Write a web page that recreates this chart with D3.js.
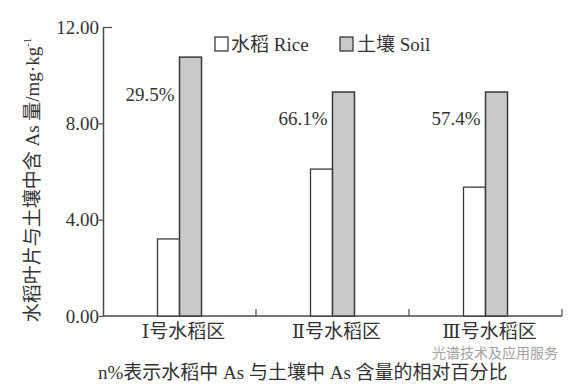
<!DOCTYPE html>
<html>
<head>
<meta charset="utf-8">
<script src="https://cdn.jsdelivr.net/npm/d3@7"></script>
<style>
  body { margin: 0; background: #fff; }
  svg text { fill: #2b2b2b; }
</style>
</head>
<body>
<svg id="chart" width="584" height="387"></svg>
<script>
// data
var categories = ["Ⅰ号水稻区", "Ⅱ号水稻区", "Ⅲ号水稻区"];
var riceValues = [3.20, 6.10, 5.35];
var soilValues = [10.75, 9.30, 9.30];
var pctLabels = ["29.5%", "66.1%", "57.4%"];
var pctLabelAt = [9.2, 8.2, 8.2]; // value level where the percent text sits
var yTicks = [0, 4, 8, 12];

var svg = d3.select("#chart");
var serif = "'Liberation Serif', 'DejaVu Serif', 'Noto Sans CJK SC', serif";
var axisColor = "#4a4a4a";
var fs = 19;

var margin = { left: 103, right: 22, top: 27, bottom: 71 };
var W = 584, H = 387;

var x = d3.scaleBand().domain(categories).range([margin.left, W - margin.right]).padding(0);
var y = d3.scaleLinear().domain([0, 12]).range([H - margin.bottom, margin.top]);
var barW = 22;

// y axis
var yAxis = svg.append("g")
  .attr("transform", "translate(" + margin.left + ",0)")
  .call(d3.axisLeft(y).tickValues(yTicks).tickFormat(d3.format(".2f")).tickSize(4).tickSizeOuter(0));
yAxis.select(".domain").attr("stroke", axisColor).attr("stroke-width", 1.5);
yAxis.selectAll(".tick line").attr("stroke", axisColor).attr("stroke-width", 1.2);
yAxis.selectAll(".tick").filter(function (d) { return d === 12; }).select("line").attr("x2", 9);
yAxis.selectAll(".tick text").attr("font-family", serif).attr("font-size", fs).attr("x", -4).style("fill", "#333");

// x axis: ticks at the band borders, pointing up
var xAxisG = svg.append("g").attr("transform", "translate(0," + y(0) + ")");
xAxisG.append("line").attr("x1", margin.left).attr("x2", W - margin.right)
  .attr("stroke", axisColor).attr("stroke-width", 1.5);
xAxisG.selectAll(".xt").data(categories).enter().append("line")
  .attr("x1", function (d) { return x(d) + x.bandwidth(); })
  .attr("x2", function (d) { return x(d) + x.bandwidth(); })
  .attr("y1", 0).attr("y2", -7)
  .attr("stroke", axisColor).attr("stroke-width", 1.2);
xAxisG.selectAll(".xl").data(categories).enter().append("text")
  .attr("x", function (d) { return x(d) + x.bandwidth() / 2 + 4; })
  .attr("y", 22)
  .attr("text-anchor", "middle")
  .attr("font-family", serif).attr("font-size", fs)
  .style("fill", "#333")
  .text(function (d) { return d; });

// bars
var groups = svg.selectAll(".grp").data(categories).enter().append("g");
groups.append("rect")
  .attr("x", function (d) { return x(d) + x.bandwidth() / 2 - barW; })
  .attr("y", function (d, i) { return y(riceValues[i]); })
  .attr("width", barW)
  .attr("height", function (d, i) { return y(0) - y(riceValues[i]); })
  .attr("fill", "#fff").attr("stroke", "#3a3a3a").attr("stroke-width", 1.3);
groups.append("rect")
  .attr("x", function (d) { return x(d) + x.bandwidth() / 2; })
  .attr("y", function (d, i) { return y(soilValues[i]); })
  .attr("width", barW)
  .attr("height", function (d, i) { return y(0) - y(soilValues[i]); })
  .attr("fill", "#c9c9c9").attr("stroke", "#3a3a3a").attr("stroke-width", 1.5);
groups.append("text")
  .attr("x", function (d) { return x(d) + x.bandwidth() / 2 - 5; })
  .attr("y", function (d, i) { return y(pctLabelAt[i]); })
  .attr("dy", "0.35em")
  .attr("text-anchor", "end")
  .attr("font-family", serif).attr("font-size", fs)
  .style("fill", "#333")
  .text(function (d, i) { return pctLabels[i]; });

// legend
var legend = svg.append("g").attr("transform", "translate(215,37)");
legend.append("rect").attr("x", 0).attr("y", 0).attr("width", 13).attr("height", 14)
  .attr("fill", "#fff").attr("stroke", "#3a3a3a").attr("stroke-width", 1.3);
legend.append("text").attr("x", 16).attr("y", 14).attr("font-family", serif).attr("font-size", fs)
  .style("fill", "#333").text("水稻 Rice");
legend.append("rect").attr("x", 125).attr("y", 0).attr("width", 13).attr("height", 14)
  .attr("fill", "#c9c9c9").attr("stroke", "#3a3a3a").attr("stroke-width", 1.3);
legend.append("text").attr("x", 142).attr("y", 14).attr("font-family", serif).attr("font-size", fs)
  .style("fill", "#333").text("土壤 Soil");

// y axis title
svg.append("text")
  .attr("transform", "translate(39,180) rotate(-90)")
  .attr("text-anchor", "middle")
  .attr("font-family", serif).attr("font-size", fs)
  .style("fill", "#333")
  .html("水稻叶片与土壤中含 As 量/mg·kg<tspan dy='-8' font-size='11'>-1</tspan>");

// footnote
svg.append("text")
  .attr("x", 98).attr("y", 379)
  .attr("font-family", serif).attr("font-size", fs)
  .style("fill", "#333")
  .text("n%表示水稻中 As 与土壤中 As 含量的相对百分比");

// watermark
svg.append("text")
  .attr("x", 432).attr("y", 358)
  .attr("font-family", "'Noto Sans CJK SC', sans-serif").attr("font-size", 14)
  .style("fill", "#8a8a8a").style("opacity", 0.8)
  .text("光谱技术及应用服务");
</script>
</body>
</html>
